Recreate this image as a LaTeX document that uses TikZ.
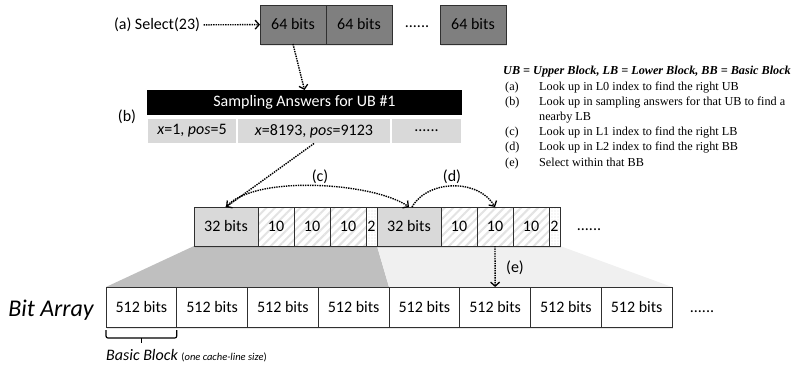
\documentclass[tikz,border=0pt]{standalone}
\usepackage{fontspec}
\setmainfont{Carlito}
\newfontfamily\notefont{Liberation Serif}
\usetikzlibrary{arrows.meta,positioning,patterns.meta,backgrounds,shadows}
\definecolor{wordgray}{HTML}{7F7F7F}
\definecolor{cellgray}{HTML}{D9D9D9}
\definecolor{fandark}{HTML}{BFBFBF}
\definecolor{fanlight}{HTML}{F0F0F0}
\definecolor{edgegray}{HTML}{303030}

\begin{document}
\begin{tikzpicture}[
  x=1pt, y=-1pt,
  node distance=0pt,
  font=\fontsize{16}{19}\selectfont,
  cell/.style={draw=edgegray,line width=0.8pt,outer sep=0pt,inner sep=0pt,minimum height=39pt,
    drop shadow={shadow xshift=1pt,shadow yshift=-1.5pt,opacity=0.2}},
  word/.style={cell,fill=wordgray,minimum width=66pt},
  head/.style={fill=black,text=white,outer sep=0pt,inner sep=0pt,minimum width=315pt,minimum height=25pt},
  samp/.style={fill=cellgray,draw=white,line width=1.5pt,outer sep=0pt,inner sep=0pt,minimum height=25pt},
  ubcell/.style={cell,fill=cellgray,minimum width=64pt},
  lbcell/.style={cell,minimum width=36pt,preaction={fill=white},
    pattern={Lines[angle=45,distance=6pt,line width=2pt]},pattern color=gray!22},
  padcell/.style={cell,minimum width=11pt,preaction={fill=white},
    pattern={Dots[distance=3pt,radius=0.35pt]},pattern color=gray!70},
  bitcell/.style={cell,fill=white,minimum width=70.75pt,minimum height=40pt},
  dotarrow/.style={line width=1.4pt,densely dotted,-{Straight Barb[length=4pt,width=9pt,line width=1.3pt]}}
]
\useasboundingbox (0,0) rectangle (797,364);

% L0 index
\node (sel) at (157,25) {(a) Select(23)};
\node[word,anchor=west] (w1) at (260,24.5) {64 bits};
\node[word,right=of w1] (w2) {64 bits};
\node (wdots) at (417,27) {......};
\node[word] (w3) at (473,24.5) {64 bits};

% sampling answers
\node[head] (hdr) at (304.5,102.5) {Sampling Answers for UB \#1};
\node (lb) at (127,117) {(b)};
\node[samp,minimum width=90pt,anchor=west] (s1) at (147,131) {\textit{x}=1, \textit{pos}=5};
\node[samp,minimum width=154pt,right=of s1] (s2) {\textit{x}=8193, \textit{pos}=9123};
\node[samp,minimum width=71pt,right=of s2] (s3) {......};

% L1 / L2 index
\node[ubcell,anchor=west] (u1) at (194,226.5) {32 bits};
\node[lbcell,right=of u1] (u1a) {10};
\node[lbcell,right=of u1a] (u1b) {10};
\node[lbcell,right=of u1b] (u1c) {10};
\node[padcell,right=of u1c] (u1p) {2};
\node[ubcell,right=of u1p] (u2) {32 bits};
\node[lbcell,right=of u2] (u2a) {10};
\node[lbcell,right=of u2a] (u2b) {10};
\node[lbcell,right=of u2b] (u2c) {10};
\node[padcell,right=of u2c] (u2p) {2};
\node (mdots) at (589,230) {......};

% bit array
\node[font=\fontsize{24}{28}\selectfont\itshape] (bitarr) at (51,310) {Bit Array};
\node[bitcell,anchor=west] (b1) at (106,307) {512 bits};
\node[bitcell,right=of b1] (b2) {512 bits};
\node[bitcell,right=of b2] (b3) {512 bits};
\node[bitcell,right=of b3] (b4) {512 bits};
\node[bitcell,right=of b4] (b5) {512 bits};
\node[bitcell,right=of b5] (b6) {512 bits};
\node[bitcell,right=of b6] (b7) {512 bits};
\node[bitcell,right=of b7] (b8) {512 bits};
\node (bdots) at (702,312) {......};

% zoom fans
\begin{scope}[on background layer]
\fill[fandark] (u1.south west) -- (u2.south west) -- (b5.north west) -- (b1.north west) -- cycle;
\fill[fanlight] (u2.south west) -- (u2p.south east) -- (b8.north east) -- (b5.north west) -- cycle;
\end{scope}

% lookups
\draw[dotarrow] (sel) -- (w1);
\draw[dotarrow] (w1.south) -- (hdr.north);
\draw[dotarrow] (s2.south) -- (u1.north);
\draw[dotarrow] (u1.north) to[out=50,in=145,looseness=0.6] (u2.north);
\draw[dotarrow] ([xshift=3pt]u2.north) to[out=60,in=120] (u2b.north);
\draw[dotarrow] (u2b.south) -- (b6.north);
\node (lc) at (320,177) {(c)};
\node (ld) at (452,177) {(d)};
\node (le) at (515,268) {(e)};

% basic block brace
\draw[line width=1.2pt,rounded corners=2pt] ([yshift=-3pt]b1.south west) |- ([yshift=-11pt]b1.south) -| ([yshift=-3pt]b1.south east);
\draw[line width=1.2pt] ([yshift=-11pt]b1.south) -- ([yshift=-16pt]b1.south);
\node[anchor=west,inner sep=0pt] (bbnote) at (106,356) {\itshape Basic Block \fontsize{10.5}{12}\selectfont\upshape(\textit{one cache-line size})};

% legend
\node[anchor=north west,inner sep=0pt,font=\notefont\fontsize{12.2}{15.2}\selectfont] (legend) at (503,64) {%
  \begin{tabular}{@{}p{36pt}@{}l@{}}
    \multicolumn{2}{@{}l@{}}{\bfseries\itshape UB = Upper Block, LB = Lower Block, BB = Basic Block}\\
    \hspace{2pt}(a) & Look up in L0 index to find the right UB\\
    \hspace{2pt}(b) & Look up in sampling answers for that UB to find a\\
        & nearby LB\\
    \hspace{2pt}(c) & Look up in L1 index to find the right LB\\
    \hspace{2pt}(d) & Look up in L2 index to find the right BB\\
    \hspace{2pt}(e) & Select within that BB
  \end{tabular}};
\end{tikzpicture}
\end{document}
